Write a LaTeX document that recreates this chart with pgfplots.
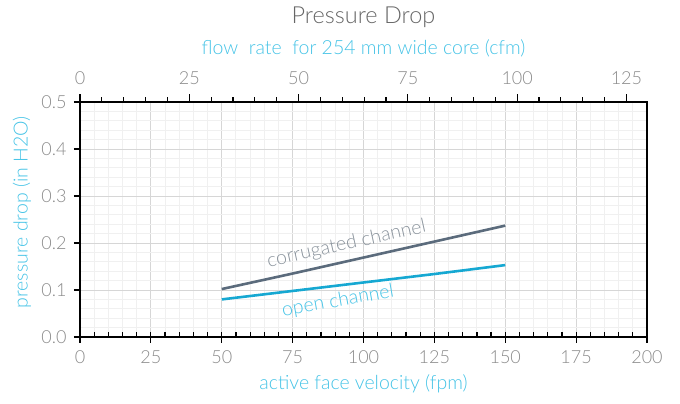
\documentclass[border=0pt]{standalone}
\usepackage{fontspec}
\setmainfont{Lato Light}
\usepackage{pgfplots}
\pgfplotsset{compat=1.18}

\definecolor{labcyan}{HTML}{45C3E6}
\definecolor{opencol}{HTML}{16A8D2}
\definecolor{corrcol}{HTML}{5B6B7C}
\definecolor{corrtxt}{HTML}{8A939C}
\definecolor{tickgray}{HTML}{8A8A8A}
\definecolor{titlegray}{HTML}{666666}

\begin{document}
\begin{tikzpicture}
\useasboundingbox (-80pt,-67pt) rectangle (600pt,337pt);

% main axis: grid, data, bottom and left ticks
\begin{axis}[
    name=main, at={(0,0)}, anchor=south west,
    scale only axis, width=567pt, height=235pt,
    xmin=0, xmax=200, ymin=0, ymax=0.5,
    xtick={0,25,...,200}, minor x tick num=4,
    ytick={0,0.1,0.2,0.3,0.4,0.5}, minor y tick num=4,
    xtick pos=bottom, ytick pos=left,
    tick align=outside, major tick length=6pt, minor tick length=0pt,
    tick style={black, line width=1.2pt},
    axis line style={black, line width=1.5pt},
    grid=both,
    major grid style={black!16, line width=0.9pt},
    minor grid style={black!6, line width=0.9pt},
    /pgf/number format/assume math mode=true,
    yticklabel style={/pgf/number format/fixed, /pgf/number format/fixed zerofill,
        /pgf/number format/precision=1, font=\fontsize{18}{18}\selectfont, text=tickgray,
        xshift=-4pt},
    xticklabel style={font=\fontsize{18}{18}\selectfont, text=tickgray, yshift=-4pt},
    xlabel={active face velocity (fpm)},
    xlabel style={font=\fontsize{19.5}{19.5}\selectfont, text=labcyan,
        at={(axis description cs:0.5,0)}, anchor=center, yshift=-47pt},
    ylabel={pressure drop (in H2O)},
    ylabel style={font=\fontsize{19.5}{19.5}\selectfont, text=labcyan,
        at={(axis description cs:0,0.53)}, anchor=center, yshift=58pt},
]
\addplot[corrcol, line width=2.6pt] coordinates {
    (50,0.102) (75,0.135) (100,0.169) (125,0.203) (150,0.237)
};
\addplot[opencol, line width=2.6pt] coordinates {
    (50,0.080) (75,0.098) (100,0.116) (125,0.134) (150,0.153)
};
\node[rotate=12.5, text=corrtxt, font=\fontsize{19.5}{19.5}\selectfont]
    at (axis cs:94,0.197) {corrugated channel};
\node[rotate=10, text=labcyan, font=\fontsize{19.5}{19.5}\selectfont]
    at (axis cs:91,0.076) {open channel};
\end{axis}

% inner minor ticks along the bottom
\begin{axis}[
    at={(0,0)}, anchor=south west,
    scale only axis, width=567pt, height=235pt,
    xmin=0, xmax=200, ymin=0, ymax=0.5,
    xtick={5,10,...,195}, xticklabels={}, ytick=\empty,
    xtick pos=bottom, tick align=inside, major tick length=5pt,
    tick style={black, line width=1.2pt},
    axis line style={draw=none},
]
\end{axis}

% top axis: flow rate
\begin{axis}[
    at={(0,0)}, anchor=south west,
    scale only axis, width=567pt, height=235pt,
    xmin=0, xmax=129.7, ymin=0, ymax=0.5,
    xtick={0,25,...,125}, minor x tick num=4, ytick=\empty,
    xtick pos=top, tick align=outside, major tick length=8pt, minor tick length=5pt,
    tick style={black, line width=1.2pt},
    axis line style={draw=none},
    /pgf/number format/assume math mode=true,
    xticklabel style={font=\fontsize{18}{18}\selectfont, text=tickgray, yshift=6pt},
    xlabel={flow\ \ rate\ \ for 254 mm wide core (cfm)},
    xlabel style={font=\fontsize{19.5}{19.5}\selectfont, text=labcyan,
        at={(axis description cs:0.5,1)}, anchor=center, yshift=54pt},
    title={Pressure Drop},
    title style={font=\fontsize{23.5}{23.5}\selectfont, text=titlegray,
        at={(axis description cs:0.5,1)}, anchor=center, yshift=79pt},
]
\end{axis}
\end{tikzpicture}
\end{document}
